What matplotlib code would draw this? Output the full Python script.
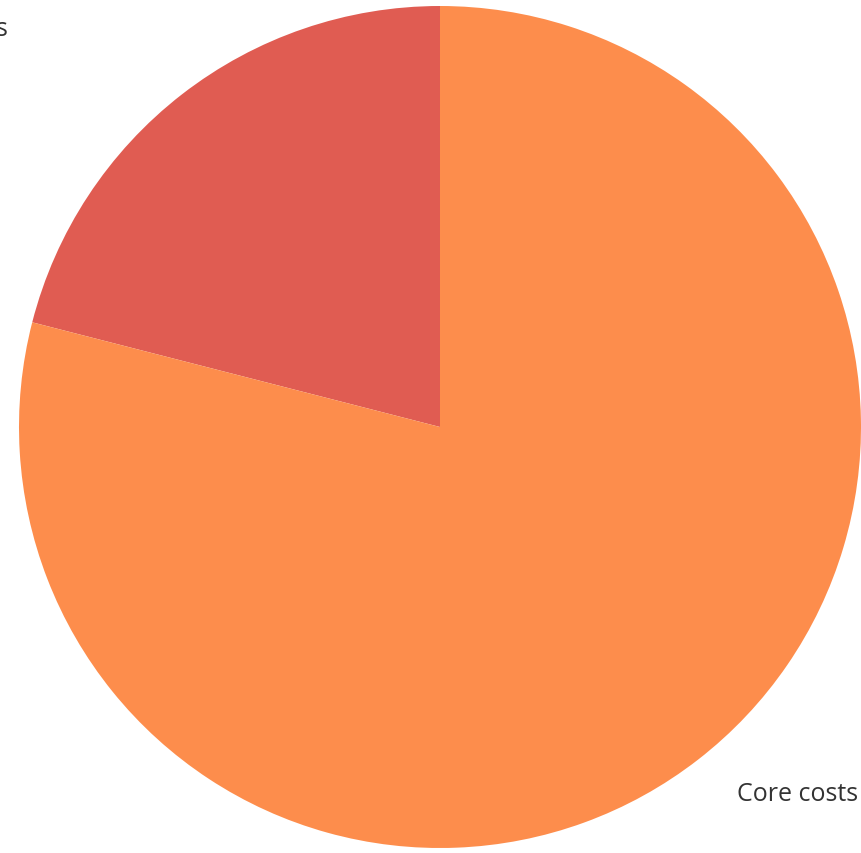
import matplotlib.pyplot as plt

# share of costs
labels = ["Other costs", "Core costs"]
shares = [21, 79]
colors = ["#E05C52", "#FD8D4C"]

W, H = 861, 854
fig = plt.figure(figsize=(W / 100, H / 100), dpi=100)
ax = fig.add_axes([0, 0, 1, 1])

ax.pie(shares, colors=colors, startangle=90, counterclock=True,
       center=(440, H - 428), radius=421,
       wedgeprops={"linewidth": 0})
ax.set_xlim(0, W)
ax.set_ylim(0, H)
ax.set_aspect("equal")
ax.axis("off")

# labels sit partly outside the picture, as in the reference
ax.text(8, H - 30, labels[0], ha="right", va="center", fontsize=18,
        family="Open Sans", color="#333333")
ax.text(737, H - 795, labels[1], ha="left", va="center", fontsize=18,
        family="Open Sans", color="#333333")

fig.savefig("out.png", dpi=100)
